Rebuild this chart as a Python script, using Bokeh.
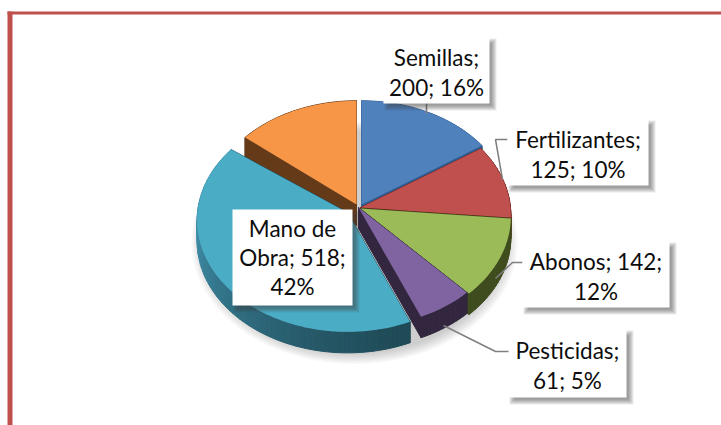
import math
from bokeh.plotting import figure
from bokeh.models import ColumnDataSource
from bokeh.core.properties import value
from bokeh.embed import file_html
from bokeh.resources import INLINE

# ---- data
names = ["Semillas", "Fertilizantes", "Abonos", "Pesticidas", "Mano de Obra", ""]
values = [200, 125, 142, 61, 518, 184]
percents = ["16%", "10%", "12%", "5%", "42%", ""]
label_texts = ["Semillas;\n200; 16%", "Fertilizantes;\n125; 10%", "Abonos; 142;\n12%",
               "Pesticidas;\n61; 5%", "Mano de\nObra; 518;\n42%"]
top_colors = ["#4F81BD", "#C0504D", "#9BBB59", "#8064A2", "#4BACC6", "#F79646"]
side_colors = ["#2F5F94", "#6B1F1C", "#3F4D1E", "#33263F", "#1F4A56", "#653A18"]

# ---- layout (screen pixels)
CX, CY, R, RY, P, DEPTH = 360, 204, 150, 111, 0.07, 21
explode = [(1, 0), (0, 3), (0, 4), (-2, 3), (-13, 8), (-4, 0)]
# small perspective corrections to each slice boundary, degrees
edge_nudge = [0, -2, 0, 0, 2.5, 0, 0]
# separate correction for the far end of the last slices
orange_start_nudge = 3
boxes = [(383, 37, 489, 103), (507, 119, 648, 185), (522, 241, 669, 307),
         (508, 329, 626, 397), (232, 209, 352, 305)]
leaders = [([426, 426], [103, 113]),
           ([507, 495, 502], [139, 139, 179]),
           ([522, 512, 495], [262, 262, 278]),
           ([510, 495, 443], [351, 351, 325])]
text_dy = [2, 2, 2, 2, 0]
FRAME = "#C0504D"

p = figure(width=721, height=425, x_range=(0, 721), y_range=(425, 0),
           output_backend="svg", toolbar_location=None, min_border=0,
           background_fill_color="white", border_fill_color="white")
p.axis.visible = False
p.grid.visible = False
p.outline_line_color = None


def proj(theta, r, dx, dy, drop=0.0):
    u, v = math.sin(theta), math.cos(theta)
    k = 1 / (1 + P * v)
    return CX + dx + R * r * u * k, CY + dy + drop - RY * r * v * k


def mix(a, b, t):
    ca = [int(a[i:i + 2], 16) for i in (1, 3, 5)]
    cb = [int(b[i:i + 2], 16) for i in (1, 3, 5)]
    return "#%02x%02x%02x" % tuple(round(x + (y - x) * t) for x, y in zip(ca, cb))


def fill(xs, ys, color, alpha=1.0, seam=True):
    p.patches(xs, ys, fill_color=color, fill_alpha=alpha,
              line_color=color if seam else None, line_width=1.0, line_alpha=alpha)


# frame
fill([[7, 12, 12, 7]], [[11, 11, 425, 425]], FRAME, seam=False)
fill([[7, 721, 721, 7]], [[11, 11, 14, 14]], FRAME, seam=False)

# soft shadow below the pie
ring = [2 * math.pi * i / 120 for i in range(120)]
for i in range(8):
    q = 1.0 + 0.012 * (7 - i)
    pts = [proj(a, q, -6, 9, DEPTH) for a in ring]
    fill([[a for a, _ in pts]], [[b for _, b in pts]], "#7f7f7f", 0.05, seam=False)

# slices, back to front
total = sum(values)
edges = [0.0]
for v in values:
    edges.append(edges[-1] + v / total * 2 * math.pi)
edges = [e + math.radians(n) for e, n in zip(edges, edge_nudge)]
order = [5, 0, 1, 2, 3, 4]
for idx in order:
    a0, a1 = edges[idx], edges[idx + 1]
    if idx == 5:
        a0 += math.radians(orange_start_nudge)
    dx, dy = explode[idx]
    n = max(6, int((a1 - a0) / 0.03))
    arc = [a0 + (a1 - a0) * j / n for j in range(n + 1)]
    # radial walls
    for ang in (a0, a1):
        ax, ay = proj(0, 0, dx, dy)
        bx, by = proj(ang, 1, dx, dy)
        fill([[ax, bx, bx, ax]], [[ay, by, by + DEPTH, ay + DEPTH]], side_colors[idx])
    # outer wall
    for j in range(n):
        x0, y0 = proj(arc[j], 1, dx, dy)
        x1, y1 = proj(arc[j + 1], 1, dx, dy)
        col = side_colors[idx]
        if idx == 4:
            t = (arc[j] - a0) / (a1 - a0)
            col = mix("#1F4A56", "#3F8CA6", min(1, (t * 1.4) ** 1.3))
        fill([[x0, x1, x1, x0]], [[y0, y1, y1 + DEPTH, y0 + DEPTH]], col)
    # top face
    pts = [proj(0, 0, dx, dy)] + [proj(a, 1, dx, dy) for a in arc]
    fill([[a for a, _ in pts]], [[b for _, b in pts]], top_colors[idx], seam=False)

# leader lines
for lx, ly in leaders:
    p.line(lx, ly, line_color="#7F7F7F", line_width=1.5)

# label boxes with drop shadow
for (l, t, r, b) in boxes:
    for g in range(6):
        e = 3 - g
        fill([[l + 4 - e, r + 4 + e, r + 4 + e, l + 4 - e]],
             [[t + 4 - e, t + 4 - e, b + 4 + e, b + 4 + e]], "#404040", 0.11, seam=False)
    fill([[l, r, r, l]], [[t, t, b, b]], "white", seam=False)

src = ColumnDataSource(dict(
    x=[(b[0] + b[2]) / 2 for b in boxes],
    y=[(b[1] + b[3]) / 2 + d for b, d in zip(boxes, text_dy)],
    t=label_texts))
p.text("x", "y", text="t", source=src, text_font=value("Lato"), text_font_size="22.5px",
       text_align="center", text_baseline="middle", text_color="#0D0D0D", text_line_height=1.09)

open("out.html", "w").write(file_html(p, INLINE))
